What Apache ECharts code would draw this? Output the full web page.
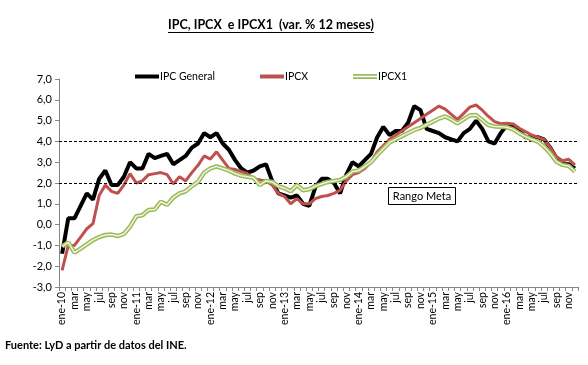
<!DOCTYPE html>
<html>
<head>
<meta charset="utf-8">
<script src="https://cdn.jsdelivr.net/npm/echarts@6/dist/echarts.min.js"></script>
<style>
html,body{margin:0;padding:0;background:#fff;}
#c{width:588px;height:365px;}
</style>
</head>
<body>
<div id="c"></div>
<script>
// ---- data ----
const years = ['10','11','12','13','14','15','16'];
const monthNames = ['ene','feb','mar','abr','may','jun','jul','ago','sep','oct','nov','dic'];
const categories = [];
years.forEach(y => monthNames.forEach((m, k) => categories.push(k === 0 ? m + '-' + y : m)));

const ipcGeneral = [
  -1.4, 0.3, 0.3, 0.9, 1.5, 1.2, 2.2, 2.6, 1.9, 1.9, 2.3, 3.0,
  2.7, 2.7, 3.4, 3.2, 3.3, 3.4, 2.9, 3.1, 3.3, 3.7, 3.9, 4.4,
  4.2, 4.4, 3.9, 3.6, 3.1, 2.7, 2.5, 2.6, 2.8, 2.9, 2.1, 1.5,
  1.4, 1.3, 1.4, 1.0, 0.9, 1.8, 2.2, 2.2, 2.0, 1.5, 2.4, 3.0,
  2.8, 3.1, 3.4, 4.2, 4.7, 4.3, 4.5, 4.5, 4.9, 5.7, 5.5, 4.6,
  4.5, 4.4, 4.2, 4.1, 4.0, 4.4, 4.6, 5.0, 4.6, 4.0, 3.9, 4.4,
  4.8, 4.7, 4.5, 4.2, 4.2, 4.2, 4.1, 3.7, 3.2, 2.9, 2.9, 2.7
];
const ipcx = [
  -2.2, -1.0, -1.0, -0.6, -0.2, 0.05, 1.4, 1.9, 1.6, 1.5, 1.9, 2.45,
  2.0, 2.1, 2.4, 2.45, 2.5, 2.4, 1.95, 2.3, 2.1, 2.5, 2.85, 3.3,
  3.15, 3.5, 3.1, 2.7, 2.65, 2.55, 2.45, 2.2, 2.15, 2.1, 1.9, 1.5,
  1.35, 1.0, 1.25, 1.0, 1.0, 1.25, 1.35, 1.4, 1.5, 1.65, 2.1, 2.4,
  2.5, 2.7, 3.0, 3.5, 3.8, 4.1, 4.3, 4.5, 4.7, 4.9, 5.1, 5.3,
  5.5, 5.7, 5.55, 5.3, 5.05, 5.35, 5.65, 5.75, 5.5, 5.2, 4.95, 4.85,
  4.87, 4.84, 4.63, 4.47, 4.31, 4.2, 4.1, 3.7, 3.27, 3.07, 3.14, 2.87
];
const ipcx1 = [
  -1.05, -0.85, -1.35, -1.15, -0.95, -0.75, -0.6, -0.5, -0.48, -0.55, -0.45, -0.1,
  0.4, 0.45, 0.7, 0.73, 1.1, 0.95, 1.3, 1.5, 1.6, 1.85, 2.05, 2.5,
  2.7, 2.8, 2.7, 2.6, 2.45, 2.35, 2.3, 2.25, 1.9, 2.1, 2.05, 1.85,
  1.75, 1.6, 1.9, 1.65, 1.7, 1.85, 1.95, 2.05, 2.1, 2.15, 2.3, 2.55,
  2.6, 2.8, 3.0, 3.35, 3.65, 3.95, 4.1, 4.25, 4.4, 4.55, 4.65, 4.8,
  4.95, 5.1, 5.2, 5.05, 4.87, 5.06, 5.25, 5.27, 5.03, 4.79, 4.72, 4.7,
  4.68, 4.58, 4.39, 4.23, 4.1, 3.99, 3.75, 3.43, 3.03, 2.87, 2.82, 2.55
];
const metaRange = [2, 4];
const yTicks = { min: -3, max: 7, interval: 1 };

// ---- chart ----
const FONT = 'Lato, "Open Sans", sans-serif';
const TITLE = 'IPC, IPCX  e IPCX1  (var. % 12 meses)';
const TITLE_FONT = 'bold 12.5px ' + FONT;
const titleLeft = 168;
const titleWidth = (() => {
  const cv = document.createElement('canvas').getContext('2d');
  cv.font = TITLE_FONT;
  return cv.measureText(TITLE).width;
})();

const chart = echarts.init(document.getElementById('c'), null, { renderer: 'canvas' });
const legendBase = {
  top: 71, padding: 0, itemWidth: 24, itemHeight: 4, itemGap: 0,
  textStyle: { fontFamily: FONT, fontSize: 10.5, color: '#000', padding: [0, 0, 0, -4] },
  selectedMode: false
};
chart.setOption({
  animation: false,
  backgroundColor: '#fff',
  textStyle: { fontFamily: FONT },
  legend: [
    Object.assign({}, legendBase, { left: 135, data: [{ name: 'IPC General', icon: 'rect', itemStyle: { color: '#000' } }] }),
    Object.assign({}, legendBase, { left: 260, data: [{ name: 'IPCX', icon: 'rect', itemStyle: { color: '#C0504D' } }] }),
    Object.assign({}, legendBase, { left: 353, itemHeight: 5, data: [{ name: 'IPCX1', icon: 'path://M0,0H24V1.7H0Z M0,3.3H24V5H0Z', itemStyle: { color: '#9BBB59' } }] })
  ],
  grid: { left: 59, right: 10, top: 79, bottom: 78, containLabel: false },
  xAxis: [
    {
      type: 'category', data: categories, boundaryGap: true,
      axisLine: { show: false },
      axisTick: { show: false },
      axisLabel: { interval: 1, rotate: 90, margin: 5, fontFamily: FONT, fontSize: 10.5, color: '#000' },
      position: 'bottom'
    },
    {
      type: 'category', data: categories, boundaryGap: true,
      axisLine: { show: true, onZero: true, lineStyle: { color: '#868686', width: 1 } },
      axisTick: { show: true, interval: 0, length: 4, lineStyle: { color: '#868686' } },
      axisLabel: { show: false },
      position: 'bottom'
    }
  ],
  yAxis: {
    type: 'value', min: yTicks.min, max: yTicks.max, interval: yTicks.interval,
    splitLine: { show: false },
    axisLine: { show: true, lineStyle: { color: '#868686' } },
    axisTick: { show: true, length: 4, lineStyle: { color: '#868686' } },
    axisLabel: {
      margin: 7, fontFamily: FONT, fontSize: 11, color: '#000',
      formatter: v => v.toFixed(1).replace('.', ',')
    }
  },
  series: [
    {
      name: 'IPC General', type: 'line', data: ipcGeneral, symbol: 'none',
      lineStyle: { color: '#000', width: 4 }, itemStyle: { color: '#000' }, z: 3,
      markLine: {
        silent: true, symbol: 'none', label: { show: false },
        lineStyle: { color: '#000', type: [3, 2], width: 1 },
        data: metaRange.map(v => ({ yAxis: v }))
      }
    },
    {
      name: 'IPCX', type: 'line', data: ipcx, symbol: 'none',
      lineStyle: { color: '#C0504D', width: 3 }, itemStyle: { color: '#C0504D' }, z: 4
    },
    {
      name: 'IPCX1', type: 'line', data: ipcx1, symbol: 'none',
      lineStyle: { color: '#9BBB59', width: 4.5 }, itemStyle: { color: '#9BBB59' }, z: 5
    },
    {
      name: 'IPCX1 inner', type: 'line', data: ipcx1, symbol: 'none',
      lineStyle: { color: '#EEF3DE', width: 1.5 }, z: 6
    }
  ],
  graphic: [
    { type: 'text', x: titleLeft, y: 25, style: { text: TITLE, font: TITLE_FONT, fill: '#000', verticalAlign: 'middle' } },
    { type: 'line', shape: { x1: titleLeft, y1: 32.5, x2: titleLeft + titleWidth, y2: 32.5 }, style: { stroke: '#000', lineWidth: 1 } },
    { type: 'rect', shape: { x: 388.5, y: 187.5, width: 67, height: 17 }, style: { fill: '#fff', stroke: '#000', lineWidth: 1 }, z: 10 },
    { type: 'text', x: 422, y: 196, style: { text: 'Rango Meta', font: '11px ' + FONT, fill: '#000', align: 'center', verticalAlign: 'middle' }, z: 11 },
    { type: 'text', x: 5, y: 345, style: { text: 'Fuente: LyD a partir de datos del INE.', font: 'bold 11px ' + FONT, fill: '#000', verticalAlign: 'middle' } }
  ]
});
</script>
</body>
</html>
